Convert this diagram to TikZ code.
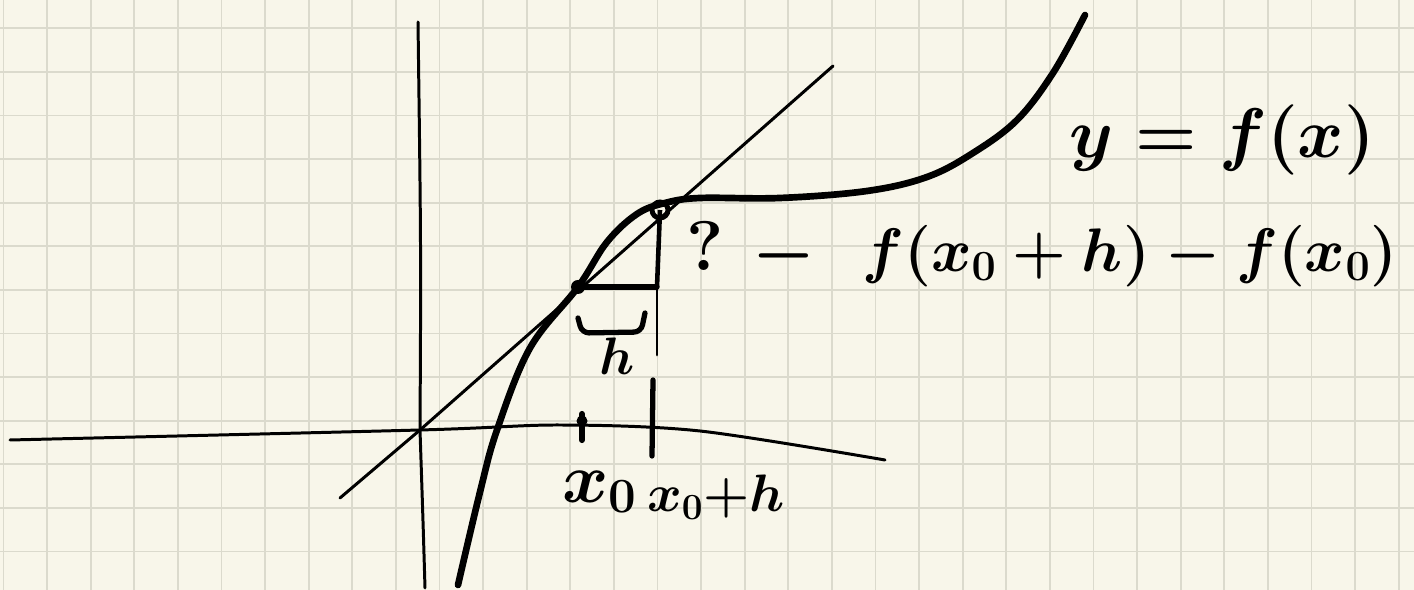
\documentclass[tikz,border=0pt]{standalone}
\usepackage{fix-cm}
\usetikzlibrary{positioning}
\definecolor{paper}{RGB}{248,246,234}
\definecolor{gridline}{RGB}{219,218,205}
\begin{document}
\begin{tikzpicture}[
    x=0.02cm, y=-0.02cm,
    gridrule/.style={gridline, line width=1.1pt},
    thinline/.style={line width=1.7pt, line cap=round},
    thickline/.style={line width=3.8pt, line cap=round, line join=round},
    markline/.style={line width=3pt, line cap=round},
    hand/.style={inner sep=0pt, font=\fontsize{40}{44}\selectfont\bfseries\boldmath},
    midhand/.style={inner sep=0pt, font=\fontsize{35}{40}\selectfont\bfseries\boldmath},
    smallhand/.style={inner sep=0pt, font=\fontsize{30}{34}\selectfont\bfseries\boldmath}
]
% paper
\fill[paper] (0,0) rectangle (1414,590);
\useasboundingbox (0,0) rectangle (1414,590);
\foreach \i in {0,...,32}
    \draw[gridrule] ({3.5+43.6*\i},0) -- ({3.5+43.6*\i},590);
\foreach \j in {0,...,12}
    \draw[gridrule] (0,{28.3+43.6*\j}) -- (1414,{28.3+43.6*\j});

% points
\coordinate (O) at (420,430);
\coordinate (P) at (578,287);
\coordinate (Q) at (660,210);
\coordinate (R) at (657,287);
\coordinate (Rdown) at (657,355);
\coordinate (ytop) at (418,22);
\coordinate (ybot) at (425,588);
\coordinate (tl) at (340,498);
\coordinate (tr) at (833,66);

% axes and tangent
\draw[thinline] (ytop) .. controls (421,250) .. (O) .. controls (423,520) .. (ybot);
\draw[thinline] plot[smooth] coordinates {(10,440) (420,430) (560,425) (700,431) (885,460)};
\draw[thinline] (tl) -- (O) -- (tr);

% y = f(x)
\draw[thickline] plot[smooth, tension=0.6] coordinates {(458,585) (480,492) (497,430)
    (530,348) (P) (607,242) (637,214) (665,203) (700,198) (780,198) (867,191)
    (927,177) (973,153) (1017,120) (1053,73) (1085,15)};

% increments
\draw[markline] (P) -- (R);
\draw[line width=2.6pt] (Q) -- (R);
\draw[thinline] (R) -- (Rdown);
\fill (P) circle (7);
\draw[line width=2.8pt] (Q) circle (8);
\draw[markline, rounded corners=4] (578,318) -- (582,333) -- (641,332) -- (645,313);

% ticks on the x-axis
\draw[line width=3.5pt, line cap=round] (582,414) -- (582,440);
\fill (582,421) circle (5.5);
\draw[markline] (653,380) -- (652,456);

% labels
\node[smallhand] (h) at (617,356) {$h$};
\node[hand] (x0) at (600,492) {$x_0$};
\node[smallhand] (x0h) at (716,497) {$x_0{+}h$};
\node[hand] (q) at (705,246) {?};
\node[hand] (dash) at (784,256) {$-$};
\node[midhand] (diff) at (1130,256) {$f(x_0+h)-f(x_0)$};
\node[hand] (fx) at (1222,140) {$y = f(x)$};
\end{tikzpicture}
\end{document}
